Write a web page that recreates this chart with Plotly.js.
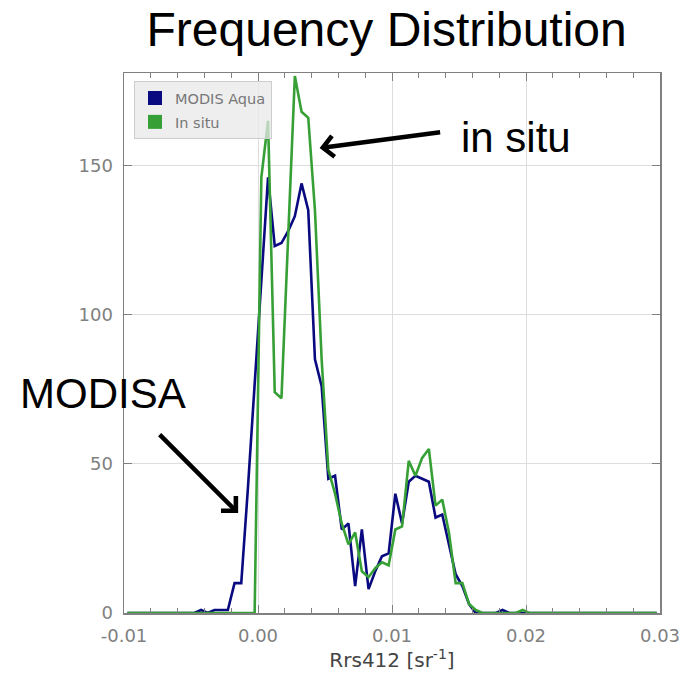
<!DOCTYPE html>
<html>
<head>
<meta charset="utf-8">
<script src="https://cdn.plot.ly/plotly-3.0.1.min.js"></script>
<style>html,body{margin:0;padding:0;background:#fff;}#chart{width:687px;height:673px;}</style>
</head>
<body>
<div id="chart"></div>
<script>
// Histogram bin centers of Rrs412 [sr^-1]
const binCenters = [
 -0.00975,-0.00925,-0.00875,-0.00825,-0.00775,-0.00725,-0.00675,-0.00625,-0.00575,-0.00525,
 -0.00475,-0.00425,-0.00375,-0.00325,-0.00275,-0.00225,-0.00175,-0.00125,-0.00075,-0.00025,
  0.00025, 0.00075, 0.00125, 0.00175, 0.00225, 0.00275, 0.00325, 0.00375, 0.00425, 0.00475,
  0.00525, 0.00575, 0.00625, 0.00675, 0.00725, 0.00775, 0.00825, 0.00875, 0.00925, 0.00975,
  0.01025, 0.01075, 0.01125, 0.01175, 0.01225, 0.01275, 0.01325, 0.01375, 0.01425, 0.01475,
  0.01525, 0.01575, 0.01625, 0.01675, 0.01725, 0.01775, 0.01825, 0.01875, 0.01925, 0.01975,
  0.02025, 0.02075, 0.02125, 0.02175, 0.02225, 0.02275, 0.02325, 0.02375, 0.02425, 0.02475,
  0.02525, 0.02575, 0.02625, 0.02675, 0.02725, 0.02775, 0.02825, 0.02875, 0.02925, 0.02975
];
// Frequency counts, MODIS Aqua
const modisCounts = [
  0,0,0,0,0,0,0,0,0,0,
  0,1,0,1,1,1,10,10,42,76,
  112,146,123,124,128,133,144,135,85,76,
  45,46,28,30,9,28,8,14,19,20,
  40,30,44,46,45,44,32,33,23,13,
  9,3,0,0,0,0,1,0,0,0,
  0,0,0,0,0,0,0,0,0,0,
  0,0,0,0,0,0,0,0,0,0
];
// Frequency counts, in situ
const insituCounts = [
  0,0,0,0,0,0,0,0,0,0,
  0,0,0,0,0,0,0,0,0,0,
  146,165,74,72,126,180,168,166,135,85,
  48,40,30,23,27,14,12,15,17,16,
  28,29,51,46,52,55,36,38,27,10,
  10,3,1,0,0,0,0,0,0,1,
  0,0,0,0,0,0,0,0,0,0,
  0,0,0,0,0,0,0,0,0,0
];
const seriesNames = ["MODIS Aqua", "In situ"];
const seriesColors = ["#0a0a80", "#36a036"];
const xTickVals = [-0.01, 0.00, 0.01, 0.02, 0.03];
const xTickText = ["-0.01", "0.00", "0.01", "0.02", "0.03"];
const yTickVals = [0, 50, 100, 150];
const yTickText = ["0", "50", "100", "150"];

const gray = "#808080";
const tickFont = {family: "DejaVu Sans", size: 18, color: gray};

const traces = [
  {x: binCenters, y: modisCounts, mode: "lines", name: seriesNames[0],
   line: {color: seriesColors[0], width: 2.6}, showlegend: false, hoverinfo: "x+y"},
  {x: binCenters, y: insituCounts, mode: "lines", name: seriesNames[1],
   line: {color: seriesColors[1], width: 2.6}, showlegend: false, hoverinfo: "x+y"},
  {x: [null], y: [null], mode: "markers", name: seriesNames[0], legendgroup: "a",
   marker: {symbol: "square", size: 14, color: seriesColors[0]}},
  {x: [null], y: [null], mode: "markers", name: seriesNames[1], legendgroup: "b",
   marker: {symbol: "square", size: 14, color: seriesColors[1]}}
];

const layout = {
  width: 687, height: 673,
  margin: {l: 124, r: 27, t: 73, b: 60},
  paper_bgcolor: "#ffffff", plot_bgcolor: "#ffffff",
  font: {family: "DejaVu Sans", color: gray},
  title: {text: "Frequency Distribution", font: {family: "Liberation Sans", size: 48, color: "#000"},
          xref: "paper", x: 0.49, xanchor: "center", yref: "container", y: 0.957, yanchor: "middle"},
  xaxis: {
    range: [-0.01, 0.03], tickmode: "array", tickvals: xTickVals, ticktext: xTickText,
    ticks: "inside", ticklen: 8, tickwidth: 1, tickcolor: gray,
    showline: true, linecolor: gray, linewidth: 1.5, mirror: "ticks",
    showgrid: true, gridcolor: "#dddddd", gridwidth: 1, zeroline: false,
    tickfont: tickFont, ticklabelstandoff: 6,
    minor: {dtick: 0.002, ticks: "inside", ticklen: 5, tickcolor: gray, showgrid: false},
    title: {text: "Rrs412 [sr<sup>-1</sup>]", font: {family: "DejaVu Sans", size: 20, color: "#444"}, standoff: 2}
  },
  yaxis: {
    range: [0, 181], tickmode: "array", tickvals: yTickVals, ticktext: yTickText,
    ticks: "inside", ticklen: 8, tickwidth: 1, tickcolor: gray,
    showline: true, linecolor: gray, linewidth: 1.5, mirror: "ticks",
    showgrid: true, gridcolor: "#dddddd", gridwidth: 1, zeroline: false,
    tickfont: tickFont, ticklabelstandoff: 6
  },
  legend: {
    x: 0.0187, y: 0.985, xanchor: "left", yanchor: "top",
    bgcolor: "rgba(232,232,232,0.75)", bordercolor: "#cccccc", borderwidth: 1,
    font: {family: "DejaVu Sans", size: 14.5, color: "#777"},
    traceorder: "grouped", tracegroupgap: 2, itemclick: false
  },
  annotations: [
    {xref: "paper", yref: "paper", x: 0.365, y: 0.861, ax: 122, ay: -16, text: "",
     showarrow: true, arrowhead: 4, arrowsize: 0.9, arrowwidth: 4.5, arrowcolor: "#000", standoff: 0},
    {xref: "paper", yref: "paper", x: 0.213, y: 0.185, ax: -80, ay: -80, text: "",
     showarrow: true, arrowhead: 4, arrowsize: 0.9, arrowwidth: 4.5, arrowcolor: "#000", standoff: 0},
    {xref: "paper", yref: "paper", x: 0.625, y: 0.881, text: "in situ", showarrow: false,
     xanchor: "left", yanchor: "middle", font: {family: "Liberation Sans", size: 42, color: "#000"}},
    {xref: "paper", yref: "paper", x: -0.197, y: 0.406, text: "MODISA", showarrow: false,
     xanchor: "left", yanchor: "middle", font: {family: "Liberation Sans", size: 42, color: "#000"}}
  ]
};

Plotly.newPlot("chart", traces, layout, {displayModeBar: false, staticPlot: true});
</script>
</body>
</html>
